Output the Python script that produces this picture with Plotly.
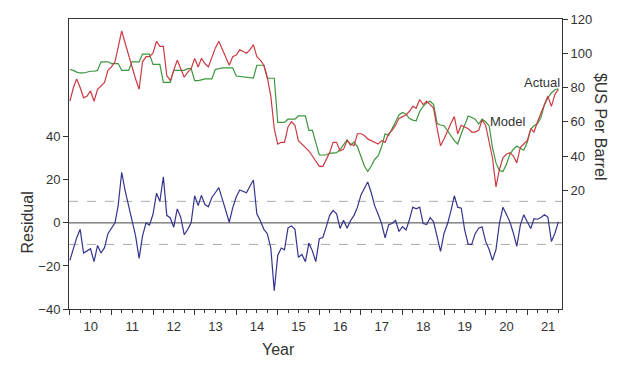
import plotly.graph_objects as go
import pandas as pd

# Monthly observations, Jan 2010 .. Oct 2021
months = pd.date_range("2010-01-01", periods=142, freq="MS")

actual = [72, 80, 85, 80, 74, 75, 78, 72, 79, 81, 83, 90,
          92, 95, 104, 113, 106, 99, 91, 85, 79, 95, 98, 98,
          100, 107, 104, 104, 87, 84, 90, 96, 91, 86, 89, 91,
          97, 92, 97, 94, 92, 98, 103, 107, 102, 98, 93, 98,
          99, 102, 101, 100, 102, 105, 98, 96, 93, 86, 75, 56,
          47, 48, 48, 57, 60, 58, 49, 47, 45, 43, 40, 37,
          34, 34, 38, 42, 48, 48, 43, 44, 49, 47, 46, 53,
          53, 52, 50, 49, 48, 47, 49, 48, 53, 55, 58, 62,
          63, 64, 66, 69, 68, 73, 70, 72, 70, 68, 56, 46,
          50, 55, 59, 63, 53, 58, 57, 56, 54, 54, 55, 61,
          58, 49, 39, 22, 32, 39, 41, 42, 40, 36, 45, 47,
          49, 56, 54, 60, 65, 71, 75, 69, 76, 79]

model = [90.5, 90, 89, 88.5, 88.5, 89, 89.5, 89.5, 90, 95, 95, 95,
         94, 94, 94, 90, 90, 90, 95, 95, 95, 99.5, 99.5, 99.5,
         93.5, 93.5, 93.5, 83, 83, 83, 90, 90, 90, 90, 91, 91,
         84, 84, 84.5, 85, 85, 85, 90.5, 91, 91.5, 91.5, 91.5, 91.5,
         86.7, 86.5, 86.3, 86, 85.5, 85.5, 93, 93, 93, 85.4, 85.4, 85.4,
         59.6, 59.6, 59.6, 61.5, 61.5, 61.5, 63.4, 63.4, 63.4, 55, 55, 48,
         40.6, 40.6, 40.6, 41.6, 41.8, 42, 43.8, 47, 49.5, 46.3, 48.2, 45.4,
         39, 34, 31, 34, 38, 40, 45.4, 53, 52, 55.8, 59.6, 64,
         65.4, 64.4, 62, 61, 60.6, 66, 69, 71, 72, 70, 59, 58.1,
         57.7, 55, 52, 49, 47, 53, 58, 63.4, 62.5, 61.5, 58.7, 61.5,
         60, 57.7, 45, 36, 31.5, 31, 35, 41, 44, 45.8, 44.5, 43.4,
         48, 55.8, 57.7, 59, 62.5, 70, 74, 76.8, 78.7, 79.3]

residual = [-17.4, -12, -7, -3, -14, -13, -12, -18, -10.5, -14, -11.5, -5,
            -2.5, 0, 8, 23.5, 15, 7.5, 1.5, -6, -16.5, -6, 0, -1,
            4, 13.8, 10, 21.4, 3.5, 2.3, -2, 6.5, 2.5, -5.5, -3, 0,
            12.6, 8, 12.8, 8.5, 7.5, 11.8, 14, 16.4, 11, 5.8, 0.3, 7,
            12, 15.3, 14.5, 14, 17, 19.9, 4.2, 1, -3, -5, -11.7, -31.5,
            -15, -11.7, -12.5, -2.3, -1.4, -3, -16, -14.7, -18, -9.4, -13, -18,
            -7.4, -6.8, -2, 3.5, 5.8, 4.2, -2.6, 1.2, -2.5, 1, 3.5, 7.3,
            13, 16.4, 19, 14.1, 8, 4, -0.3, -7, -0.8, -0.3, 1.2, -4,
            -1.8, -3.3, 1.2, 7.3, 6.5, 7.3, -0.3, -0.8, 2.5, 0.5, -7, -13.2,
            -4.8, -0.3, 5.3, 12.6, 7.3, 6.8, -3.3, -10, -10, -5, -2.5, -1.8,
            -8.6, -12.4, -17.4, -12.4, -0.3, 7.3, 4, 0.5, -4.8, -10.9, -1, 3.8,
            0.5, -2.6, 2, 1.7, 2.5, 3.8, 2.7, -8.6, -4.8, 0.5]

left_ticks = [-40, -20, 0, 20, 40]
right_ticks = [20, 40, 60, 80, 100, 120]
band = 10

FONT = "Liberation Sans, Arial, sans-serif"
TXT = "#333333"

fig = go.Figure()
fig.add_trace(go.Scatter(x=months, y=residual, mode="lines", name="Residual",
                         line=dict(color="#34348f", width=1.2), yaxis="y"))
fig.add_trace(go.Scatter(x=months, y=model, mode="lines", name="Model",
                         line=dict(color="#3c963c", width=1.2), yaxis="y2"))
fig.add_trace(go.Scatter(x=months, y=actual, mode="lines", name="Actual",
                         line=dict(color="#cc3a44", width=1.2), yaxis="y2"))

# reference lines on residual axis
fig.add_shape(type="line", xref="paper", yref="y", x0=0, x1=1, y0=0, y1=0,
              line=dict(color="#444444", width=1), layer="below")
for v in (band, -band):
    fig.add_shape(type="line", xref="paper", yref="y", x0=0, x1=1, y0=v, y1=v,
                  line=dict(color="#aaaaaa", width=1, dash="dash"), layer="below")

fig.update_layout(
    width=624, height=375,
    margin=dict(l=69, r=62, t=12, b=66),
    paper_bgcolor="white", plot_bgcolor="white",
    showlegend=False,
    font=dict(family=FONT, size=13, color=TXT),
    xaxis=dict(
        type="date",
        range=["2009-12-24", "2021-11-02"],
        tick0="2010-01-01", dtick="M12",
        ticklabelmode="period", tickformat="%y",
        ticks="outside", ticklen=5, tickcolor="#333333", tickwidth=1,
        minor=dict(dtick="M3", tick0="2010-01-01", ticks="outside", ticklen=3,
                   tickcolor="#333333", showgrid=False),
        showline=True, linecolor="#333333", linewidth=1, mirror=True,
        showgrid=False, zeroline=False,
        tickfont=dict(size=13, color=TXT),
    ),
    yaxis=dict(
        range=[-40, 94.7],
        tickvals=left_ticks,
        ticks="outside", ticklen=5, tickcolor="#333333",
        showline=True, linecolor="#333333", linewidth=1,
        showgrid=False, zeroline=False,
        tickfont=dict(size=13, color=TXT),
    ),
    yaxis2=dict(
        range=[-49.3, 120],
        tickvals=right_ticks,
        overlaying="y", side="right",
        ticks="outside", ticklen=5, tickcolor="#333333",
        showline=True, linecolor="#333333", linewidth=1,
        showgrid=False, zeroline=False,
        tickfont=dict(size=13, color=TXT),
    ),
)

ann = [
    dict(text="Residual", x=27.5, y=221, textangle=-90, size=16),
    dict(text="$US Per Barrel", x=600.5, y=122, textangle=90, size=16),
    dict(text="Year", x=278, y=350, textangle=0, size=16),
    dict(text="Actual", x=541.7, y=76.7, textangle=0, size=13),
    dict(text="Model", x=508, y=116.7, textangle=0, size=13),
]
for a in ann:
    fig.add_annotation(
        text=a["text"], xref="paper", yref="paper",
        x=(a["x"] - 69) / 493, y=(309 - a["y"]) / 297,
        xanchor="center", yanchor="middle", showarrow=False,
        textangle=a["textangle"],
        font=dict(family=FONT, size=a["size"], color=TXT),
    )

fig.write_html("out.html",
               config={"displayModeBar": False},
               post_script="document.body.style.margin='0';document.body.style.padding='0';")
